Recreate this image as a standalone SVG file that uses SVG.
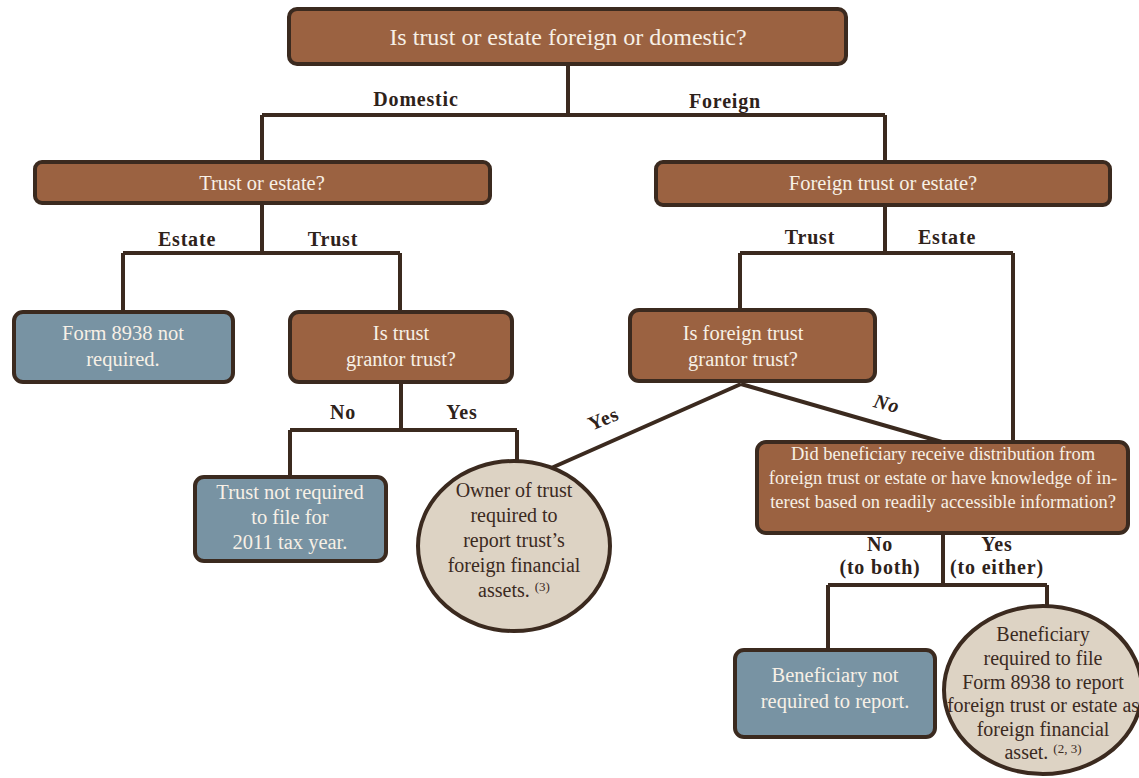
<svg xmlns="http://www.w3.org/2000/svg" width="1139" height="778" viewBox="0 0 1139 778">
<style>
.br{fill:#9b6241;stroke:#3b2a1f;stroke-width:4}
.bl{fill:#7893a3;stroke:#3b2a1f;stroke-width:4}
.ci{fill:#ddd3c4;stroke:#3b2a1f;stroke-width:4}
.wt{font-family:"Liberation Serif",serif;fill:#f7f0e6;text-anchor:middle;font-size:20.5px}
.dt{font-family:"Liberation Serif",serif;fill:#3b2a1f;text-anchor:middle;font-size:20px}
.lb{font-family:"Liberation Serif",serif;fill:#2e221a;text-anchor:middle;font-weight:bold;font-size:20px;letter-spacing:0.8px}
.ln{fill:none;stroke:#3b2a1f;stroke-width:4}
.sup{font-size:13px}
.big{font-size:24px}
.sm{font-size:18.5px}
</style>
<rect width="1139" height="778" fill="#ffffff"/>
<g id="connectors">
<path class="ln" d="M568 64V115M262 115H885M262 115V162M885 115V162"/>
<path class="ln" d="M262 203V253M123 253H400M123 253V312M400 253V312"/>
<path class="ln" d="M401 382V430M290 430H517M290 430V477M517 430V470"/>
<path class="ln" d="M885 205V253M740 253H1013M740 253V310M1013 253V442"/>
<path class="ln" d="M741 384L540 473M741 384L942 442"/>
<path class="ln" d="M943 533V585M828 585H1047M828 585V650M1047 585V610"/>
<text class="lb" x="416" y="106">Domestic</text>
<text class="lb" x="725" y="108">Foreign</text>
<text class="lb" x="187" y="246">Estate</text>
<text class="lb" x="333" y="246">Trust</text>
<text class="lb" x="810" y="244">Trust</text>
<text class="lb" x="947" y="244">Estate</text>
<text class="lb" x="343" y="419">No</text>
<text class="lb" x="462" y="419">Yes</text>
<text class="lb" transform="translate(606 425) rotate(-23)">Yes</text>
<text class="lb" font-style="italic" transform="translate(885 410) rotate(15)">No</text>
<text class="lb" x="880" y="551">No</text>
<text class="lb" x="880" y="574">(to both)</text>
<text class="lb" x="997" y="551">Yes</text>
<text class="lb" x="997" y="574">(to either)</text>
</g>
<g id="n-top">
<rect class="br" x="289" y="9" width="557" height="55" rx="8"/>
<text class="wt big" x="568" y="45">Is trust or estate foreign or domestic?</text>
</g>
<g id="n-domestic">
<rect class="br" x="35" y="162" width="455" height="41" rx="7"/>
<text class="wt" x="262" y="190">Trust or estate?</text>
</g>
<g id="n-foreign">
<rect class="br" x="656" y="162" width="454" height="43" rx="7"/>
<text class="wt" x="883" y="190">Foreign trust or estate?</text>
</g>
<g id="n-form-not-required">
<rect class="bl" x="14" y="312" width="219" height="70" rx="9"/>
<text class="wt" x="123" y="340">Form 8938 not</text>
<text class="wt" x="123" y="366">required.</text>
</g>
<g id="n-grantor">
<rect class="br" x="290" y="312" width="222" height="70" rx="9"/>
<text class="wt" x="401" y="340">Is trust</text>
<text class="wt" x="401" y="366">grantor trust?</text>
</g>
<g id="n-foreign-grantor">
<rect class="br" x="630" y="310" width="245" height="71" rx="9"/>
<text class="wt" x="743" y="340">Is foreign trust</text>
<text class="wt" x="743" y="366">grantor trust?</text>
</g>
<g id="n-trust-not-required">
<rect class="bl" x="195" y="477" width="191" height="84" rx="9"/>
<text class="wt" x="290" y="499">Trust not required</text>
<text class="wt" x="290" y="524">to file for</text>
<text class="wt" x="290" y="549">2011 tax year.</text>
</g>
<g id="n-owner">
<ellipse class="ci" cx="514" cy="546" rx="96" ry="85"/>
<text class="dt" x="514" y="497">Owner of trust</text>
<text class="dt" x="514" y="522">required to</text>
<text class="dt" x="514" y="547">report trust’s</text>
<text class="dt" x="514" y="572">foreign financial</text>
<text class="dt" x="514" y="597">assets. <tspan class="sup" dy="-6">(3)</tspan></text>
</g>
<g id="n-distribution">
<rect class="br" x="757" y="442" width="371" height="91" rx="9"/>
<text class="wt sm" x="943" y="460">Did beneficiary receive distribution from</text>
<text class="wt sm" x="943" y="484">foreign trust or estate or have knowledge of in-</text>
<text class="wt sm" x="943" y="508">terest based on readily accessible information?</text>
</g>
<g id="n-beneficiary-not">
<rect class="bl" x="735" y="650" width="200" height="87" rx="9"/>
<text class="wt" x="835" y="682">Beneficiary not</text>
<text class="wt" x="835" y="708">required to report.</text>
</g>
<g id="n-beneficiary-required">
<ellipse class="ci" cx="1043" cy="690" rx="99" ry="84"/>
<text class="dt" x="1043" y="641">Beneficiary</text>
<text class="dt" x="1043" y="665">required to file</text>
<text class="dt" x="1043" y="689">Form 8938 to report</text>
<text class="dt" x="1043" y="712">foreign trust or estate as</text>
<text class="dt" x="1043" y="736">foreign financial</text>
<text class="dt" x="1043" y="759">asset. <tspan class="sup" dy="-6">(2, 3)</tspan></text>
</g>
</svg>
